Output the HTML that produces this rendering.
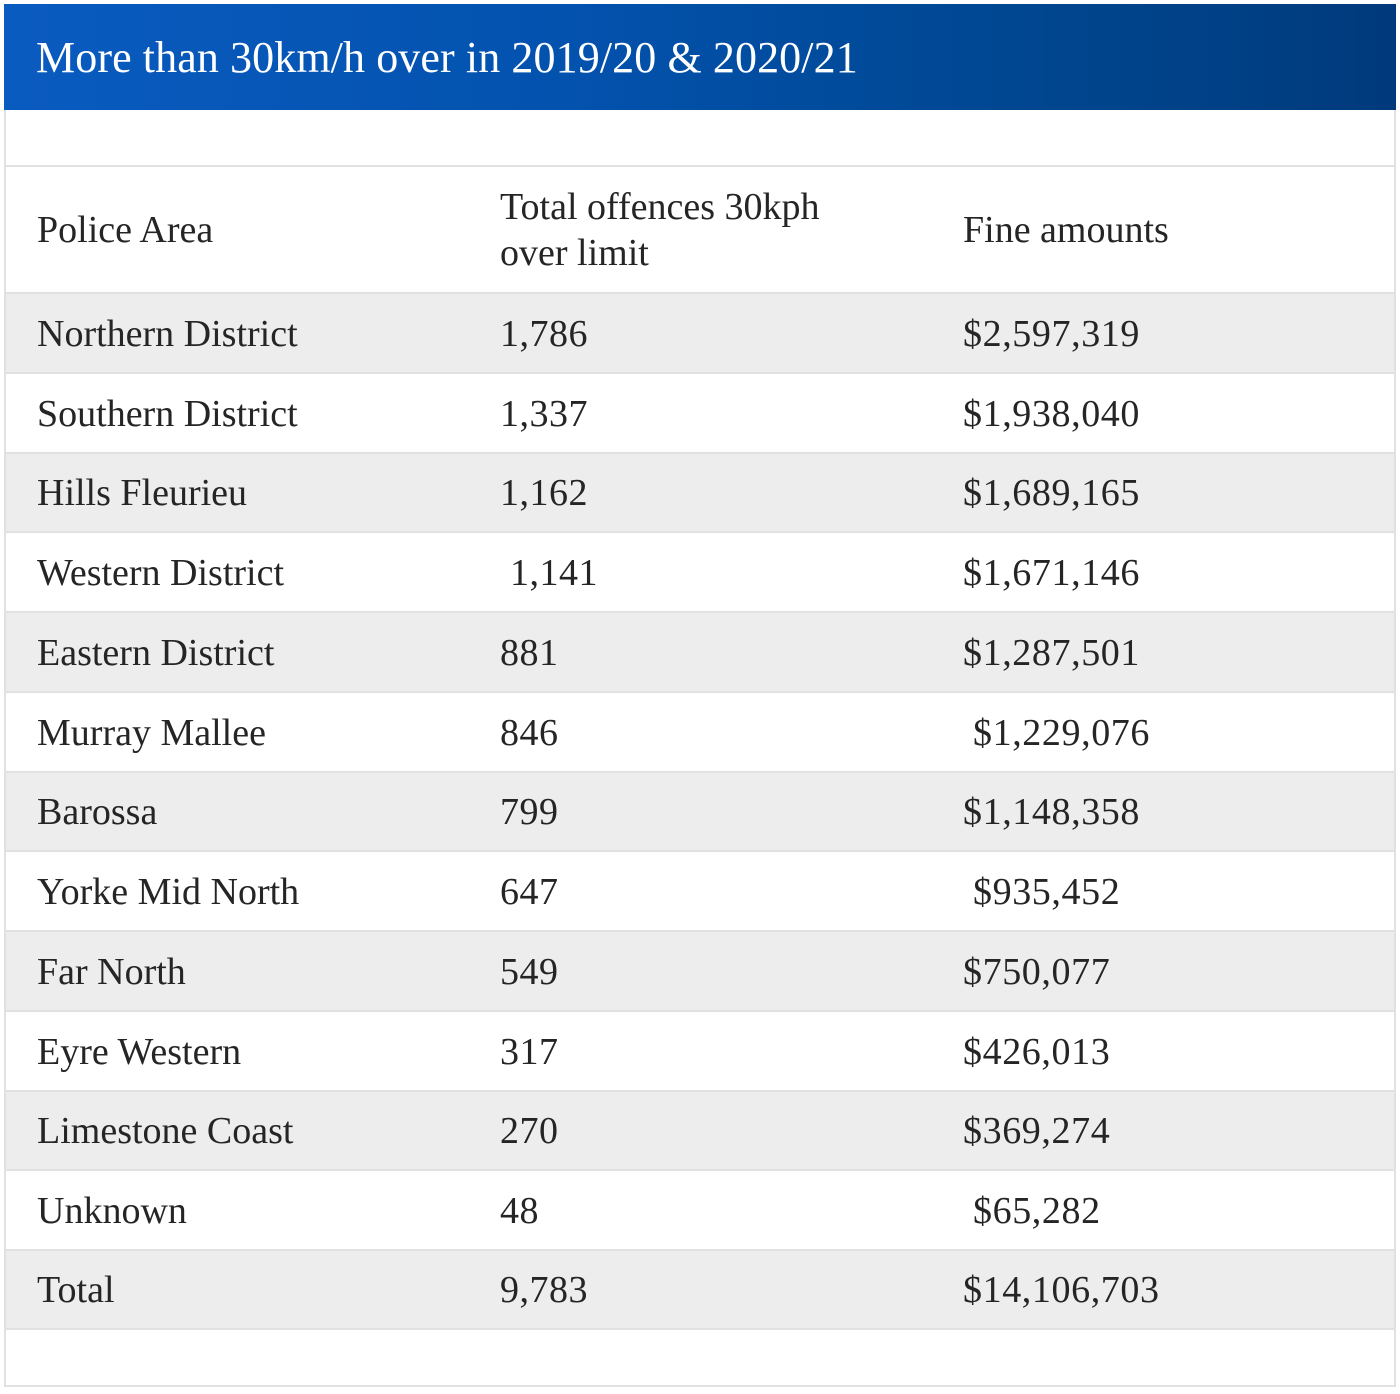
<!DOCTYPE html>
<html>
<head>
<meta charset="utf-8">
<style>
  html, body { margin:0; padding:0; background:#ffffff; }
  body { width:1400px; height:1394px; position:relative; overflow:hidden;
         font-family:"Liberation Serif", "DejaVu Serif", serif; color:#252525; }
  .hdr { position:absolute; left:4px; top:4px; width:1392px; height:106px;
         background:linear-gradient(90deg, #0a5bc0 0%, #0352ae 40%, #00468f 75%, #003a7c 100%); }
  .title { position:absolute; left:32px; top:32px; font-size:44px; line-height:44px;
           color:#ffffff; white-space:nowrap; letter-spacing:0.1px; }
  .frame { position:absolute; left:4px; top:110px; width:1388px; height:1275px;
           border-left:2px solid #e1e1e1; border-right:2px solid #e1e1e1; }
  .hline { position:absolute; left:6px; width:1388px; height:2px; background:#e1e1e1; }
  .row { position:absolute; left:6px; width:1388px; }
  .g { background:#ededed; }
  .cell { position:absolute; top:1px; bottom:0; display:flex; align-items:center;
          font-size:38px; white-space:nowrap; }
  .c1 { left:31px; }
  .c2 { left:494px; letter-spacing:0.5px; }
  .c3 { left:957px; letter-spacing:0.6px; }
  .hd { line-height:46px; letter-spacing:0; }
  .hrow .c3 { letter-spacing:0; }
  .sp { padding-left:10px; }
</style>
</head>
<body>
  <div class="hdr"><div class="title">More than 30km/h over in 2019/20 &amp; 2020/21</div></div>
  <div class="frame"></div>

  <!-- gray row backgrounds -->
  <div class="row g" style="top:294px;height:78px;"></div>
  <div class="row g" style="top:454px;height:77px;"></div>
  <div class="row g" style="top:613px;height:78px;"></div>
  <div class="row g" style="top:773px;height:77px;"></div>
  <div class="row g" style="top:932px;height:78px;"></div>
  <div class="row g" style="top:1092px;height:77px;"></div>
  <div class="row g" style="top:1251px;height:77px;"></div>

  <!-- horizontal lines -->
  <div class="hline" style="top:165px;"></div>
  <div class="hline" style="top:292px;"></div>
  <div class="hline" style="top:372px;"></div>
  <div class="hline" style="top:452px;"></div>
  <div class="hline" style="top:531px;"></div>
  <div class="hline" style="top:611px;"></div>
  <div class="hline" style="top:691px;"></div>
  <div class="hline" style="top:771px;"></div>
  <div class="hline" style="top:850px;"></div>
  <div class="hline" style="top:930px;"></div>
  <div class="hline" style="top:1010px;"></div>
  <div class="hline" style="top:1090px;"></div>
  <div class="hline" style="top:1169px;"></div>
  <div class="hline" style="top:1249px;"></div>
  <div class="hline" style="top:1328px;"></div>
  <div class="hline" style="top:1385px;left:4px;width:1392px;"></div>

  <!-- header row -->
  <div class="row hrow" style="top:167px;height:125px;">
    <div class="cell c1">Police Area</div>
    <div class="cell c2 hd">Total offences 30kph<br>over limit</div>
    <div class="cell c3">Fine amounts</div>
  </div>

  <div class="row" style="top:294px;height:78px;">
    <div class="cell c1">Northern District</div><div class="cell c2">1,786</div><div class="cell c3">$2,597,319</div>
  </div>
  <div class="row" style="top:374px;height:78px;">
    <div class="cell c1">Southern District</div><div class="cell c2">1,337</div><div class="cell c3">$1,938,040</div>
  </div>
  <div class="row" style="top:454px;height:77px;">
    <div class="cell c1">Hills Fleurieu</div><div class="cell c2">1,162</div><div class="cell c3">$1,689,165</div>
  </div>
  <div class="row" style="top:533px;height:78px;">
    <div class="cell c1">Western District</div><div class="cell c2 sp">1,141</div><div class="cell c3">$1,671,146</div>
  </div>
  <div class="row" style="top:613px;height:78px;">
    <div class="cell c1">Eastern District</div><div class="cell c2">881</div><div class="cell c3">$1,287,501</div>
  </div>
  <div class="row" style="top:693px;height:78px;">
    <div class="cell c1">Murray Mallee</div><div class="cell c2">846</div><div class="cell c3 sp">$1,229,076</div>
  </div>
  <div class="row" style="top:773px;height:77px;">
    <div class="cell c1">Barossa</div><div class="cell c2">799</div><div class="cell c3">$1,148,358</div>
  </div>
  <div class="row" style="top:852px;height:78px;">
    <div class="cell c1">Yorke Mid North</div><div class="cell c2">647</div><div class="cell c3 sp">$935,452</div>
  </div>
  <div class="row" style="top:932px;height:78px;">
    <div class="cell c1">Far North</div><div class="cell c2">549</div><div class="cell c3">$750,077</div>
  </div>
  <div class="row" style="top:1012px;height:78px;">
    <div class="cell c1">Eyre Western</div><div class="cell c2">317</div><div class="cell c3">$426,013</div>
  </div>
  <div class="row" style="top:1092px;height:77px;">
    <div class="cell c1">Limestone Coast</div><div class="cell c2">270</div><div class="cell c3">$369,274</div>
  </div>
  <div class="row" style="top:1171px;height:78px;">
    <div class="cell c1">Unknown</div><div class="cell c2">48</div><div class="cell c3 sp">$65,282</div>
  </div>
  <div class="row" style="top:1251px;height:77px;">
    <div class="cell c1">Total</div><div class="cell c2">9,783</div><div class="cell c3">$14,106,703</div>
  </div>
</body>
</html>
